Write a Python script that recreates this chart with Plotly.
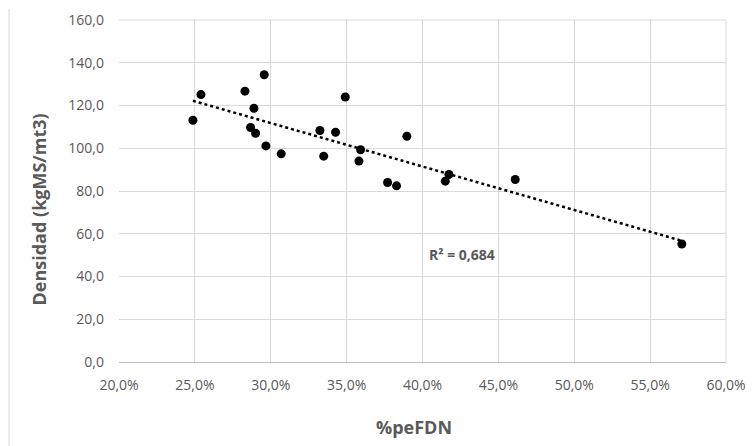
import numpy as np
import plotly.graph_objects as go

# %peFDN (fraction) and density (kgMS/mt3)
pefdn = [0.2487, 0.2540, 0.2830, 0.2957, 0.2889, 0.2867, 0.2900, 0.2968, 0.3069,
         0.3324, 0.3349, 0.3427, 0.3491, 0.3592, 0.3581, 0.3770, 0.3829, 0.3897,
         0.4150, 0.4174, 0.4611, 0.5709]
densidad = [113.1, 125.1, 126.7, 134.4, 118.7, 109.7, 107.0, 101.1, 97.4,
            108.3, 96.3, 107.5, 124.0, 99.3, 94.0, 84.0, 82.4, 105.6,
            84.6, 87.7, 85.4, 55.2]
r2_label = "R² = 0,684"
x_ticks = [0.20, 0.25, 0.30, 0.35, 0.40, 0.45, 0.50, 0.55, 0.60]
y_ticks = [0, 20, 40, 60, 80, 100, 120, 140, 160]

# page geometry (the page body adds an 8px offset)
W, H = 755, 446
OFF = 8
L, R, T, B = 119, 29, 20, 84
pw, ph = W - L - R, H - T - B

def px(x):
    return (x - L) / pw

def py(y):
    return (H - B - y) / ph

slope, intercept = np.polyfit(pefdn, densidad, 1)
xl = [min(pefdn), max(pefdn)]
yl = [slope * v + intercept for v in xl]

fig = go.Figure()
fig.add_trace(go.Scatter(x=xl, y=yl, mode="lines",
                         line=dict(color="black", width=2.5, dash="dot"),
                         hoverinfo="skip", showlegend=False))
fig.add_trace(go.Scatter(x=pefdn, y=densidad, mode="markers",
                         marker=dict(color="black", size=9),
                         showlegend=False))

tickfont = dict(family="Open Sans", size=14, color="#595959")
fig.update_xaxes(range=[0.20, 0.60], tickvals=x_ticks, tickformat=".1%",
                 showgrid=True, gridcolor="#d9d9d9", gridwidth=1,
                 showline=True, linecolor="#bfbfbf", linewidth=1,
                 zeroline=False, tickfont=tickfont, ticklabelstandoff=10,
                 automargin=False)
fig.update_yaxes(range=[0, 160], tickvals=y_ticks, tickformat=".1f",
                 showgrid=True, gridcolor="#d9d9d9", gridwidth=1,
                 showline=False, zeroline=False, tickfont=tickfont,
                 ticklabelstandoff=14, automargin=False)

fig.update_layout(
    width=W - OFF, height=H - OFF,
    margin=dict(l=L - OFF, r=R, t=T - OFF, b=B, autoexpand=False),
    paper_bgcolor="white", plot_bgcolor="white",
    separators=",.",
    font=dict(family="Open Sans", color="#595959"),
    shapes=[
        dict(type="line", xref="paper", yref="paper",
             x0=px(9), x1=px(9), y0=py(H + 10), y1=py(9),
             line=dict(color="#d9d9d9", width=1), layer="below"),
        dict(type="line", xref="paper", yref="paper",
             x0=0, x1=1, y0=1, y1=1, line=dict(color="#d9d9d9", width=1)),
        dict(type="line", xref="paper", yref="paper",
             x0=1, x1=1, y0=0, y1=1, line=dict(color="#d9d9d9", width=1)),
    ],
    annotations=[
        dict(text="<b>Densidad (kgMS/mt3)</b>", xref="paper", yref="paper",
             x=px(38), y=py(209.5), textangle=-90, showarrow=False,
             xanchor="center", yanchor="middle",
             font=dict(family="Open Sans", size=18, color="#595959")),
        dict(text="<b>%peFDN</b>", xref="paper", yref="paper",
             x=px(414), y=py(427), showarrow=False,
             xanchor="center", yanchor="middle",
             font=dict(family="Open Sans", size=18, color="#595959")),
        dict(text="<b>" + r2_label + "</b>", xref="paper", yref="paper",
             x=px(427), y=py(254), showarrow=False,
             xanchor="left", yanchor="middle",
             font=dict(family="Open Sans", size=14, color="#595959")),
    ],
)

fig.write_html("out.html")
